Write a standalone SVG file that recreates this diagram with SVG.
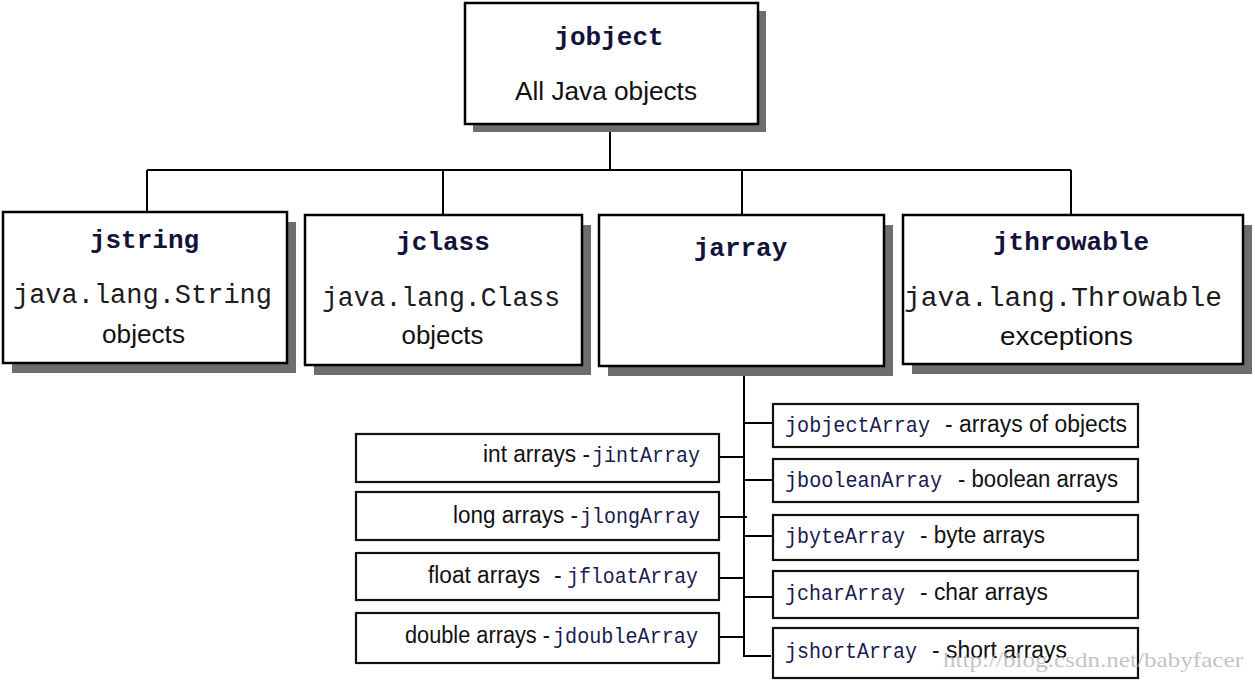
<svg xmlns="http://www.w3.org/2000/svg" width="1255" height="680" viewBox="0 0 1255 680">
<style>
.box{fill:#ffffff;stroke:#000000;stroke-width:2.5}
.shadow{fill:#6e6e6e}
.lbox{fill:#ffffff;stroke:#111111;stroke-width:2.2}
.title{font-family:"Liberation Mono","DejaVu Sans Mono",monospace;font-weight:bold;font-size:26px;fill:#12123a;text-anchor:middle}
.mono{font-family:"Liberation Mono","DejaVu Sans Mono",monospace;font-size:27px;fill:#1c1c1c;text-anchor:middle}
.sans{font-family:"Liberation Sans",Arial,sans-serif;font-size:26px;fill:#111111;text-anchor:middle}
.lsans{font-family:"Liberation Sans",Arial,sans-serif;font-size:23px;fill:#111111}
.lmono{font-family:"Liberation Mono","DejaVu Sans Mono",monospace;font-size:22px;fill:#1a1a50}
.conn{fill:none;stroke:#000000;stroke-width:2}
.wm{font-family:"Liberation Serif","DejaVu Serif",serif;font-size:22px;fill:#b4b4b4;fill-opacity:0.8}
</style>
<rect width="1255" height="680" fill="#ffffff"/>
<g id="connectors">
<path class="conn" d="M610 124V170M147 170H1071M147 170V212M443 170V215M742 170V215M1071 170V215"/>
<path class="conn" d="M744 366V656H771"/>
<path class="conn" d="M719 457H744M719 517H747M719 578H744M719 637H744"/>
<path class="conn" d="M744 423H773M744 480H773M744 536H773M744 597H773"/>
</g>
<g id="jobject">
<rect class="shadow" x="473" y="11" width="293" height="121"/>
<rect class="box" x="465" y="3" width="293" height="121"/>
<text class="title" x="609" y="45">jobject</text>
<text class="sans" x="606" y="100" textLength="182" lengthAdjust="spacingAndGlyphs">All Java objects</text>
</g>
<g id="jstring">
<rect class="shadow" x="12" y="222" width="284" height="151"/>
<rect class="box" x="3" y="212" width="284" height="151"/>
<text class="title" x="144.5" y="248">jstring</text>
<text class="mono" x="142.5" y="303" textLength="259" lengthAdjust="spacingAndGlyphs">java.lang.String</text>
<text class="sans" x="143.5" y="343" textLength="83" lengthAdjust="spacingAndGlyphs">objects</text>
</g>
<g id="jclass">
<rect class="shadow" x="314" y="225" width="277" height="150"/>
<rect class="box" x="305" y="215" width="277" height="150"/>
<text class="title" x="443" y="250">jclass</text>
<text class="mono" x="441" y="306" textLength="238" lengthAdjust="spacingAndGlyphs">java.lang.Class</text>
<text class="sans" x="442.5" y="344" textLength="82" lengthAdjust="spacingAndGlyphs">objects</text>
</g>
<g id="jarray">
<rect class="shadow" x="608" y="225" width="285" height="151"/>
<rect class="box" x="599" y="215" width="285" height="151"/>
<text class="title" x="740.5" y="256">jarray</text>
</g>
<g id="jthrowable">
<rect class="shadow" x="912" y="225" width="340" height="149"/>
<rect class="box" x="903" y="215" width="340" height="149"/>
<text class="title" x="1071" y="250">jthrowable</text>
<text class="mono" x="1063" y="306" textLength="318" lengthAdjust="spacingAndGlyphs">java.lang.Throwable</text>
<text class="sans" x="1066.5" y="345" textLength="133" lengthAdjust="spacingAndGlyphs">exceptions</text>
</g>
<g id="jintArray">
<rect class="lbox" x="356" y="434" width="363" height="48"/>
<text class="lsans" x="483" y="462" textLength="107" lengthAdjust="spacingAndGlyphs">int arrays -</text>
<text class="lmono" x="592" y="462" textLength="108" lengthAdjust="spacingAndGlyphs">jintArray</text>
</g>
<g id="jlongArray">
<rect class="lbox" x="356" y="492" width="363" height="48"/>
<text class="lsans" x="453" y="523" textLength="125" lengthAdjust="spacingAndGlyphs">long arrays -</text>
<text class="lmono" x="580" y="523" textLength="120" lengthAdjust="spacingAndGlyphs">jlongArray</text>
</g>
<g id="jfloatArray">
<rect class="lbox" x="356" y="553" width="363" height="47"/>
<text class="lsans" x="428" y="583" textLength="112" lengthAdjust="spacingAndGlyphs">float arrays</text>
<text class="lsans" x="554" y="583">-</text>
<text class="lmono" x="567" y="583" textLength="131" lengthAdjust="spacingAndGlyphs">jfloatArray</text>
</g>
<g id="jdoubleArray">
<rect class="lbox" x="356" y="613" width="363" height="50"/>
<text class="lsans" x="405" y="643" textLength="145" lengthAdjust="spacingAndGlyphs">double arrays -</text>
<text class="lmono" x="553" y="643" textLength="145" lengthAdjust="spacingAndGlyphs">jdoubleArray</text>
</g>
<g id="jobjectArray">
<rect class="lbox" x="773" y="404" width="365" height="43"/>
<text class="lmono" x="785" y="432" textLength="145" lengthAdjust="spacingAndGlyphs">jobjectArray</text>
<text class="lsans" x="945" y="432" textLength="182" lengthAdjust="spacingAndGlyphs">- arrays of objects</text>
</g>
<g id="jbooleanArray">
<rect class="lbox" x="773" y="459" width="365" height="43"/>
<text class="lmono" x="785" y="487" textLength="157" lengthAdjust="spacingAndGlyphs">jbooleanArray</text>
<text class="lsans" x="958" y="487" textLength="160" lengthAdjust="spacingAndGlyphs">- boolean arrays</text>
</g>
<g id="jbyteArray">
<rect class="lbox" x="773" y="515" width="365" height="45"/>
<text class="lmono" x="785" y="543" textLength="120" lengthAdjust="spacingAndGlyphs">jbyteArray</text>
<text class="lsans" x="920" y="543" textLength="125" lengthAdjust="spacingAndGlyphs">- byte arrays</text>
</g>
<g id="jcharArray">
<rect class="lbox" x="773" y="571" width="365" height="47"/>
<text class="lmono" x="785" y="600" textLength="120" lengthAdjust="spacingAndGlyphs">jcharArray</text>
<text class="lsans" x="920" y="600" textLength="128" lengthAdjust="spacingAndGlyphs">- char arrays</text>
</g>
<g id="jshortArray">
<rect class="lbox" x="773" y="628" width="365" height="50"/>
<text class="lmono" x="785" y="658" textLength="132" lengthAdjust="spacingAndGlyphs">jshortArray</text>
<text class="lsans" x="932" y="658" textLength="135" lengthAdjust="spacingAndGlyphs">- short arrays</text>
</g>
<text class="wm" x="943" y="667" textLength="300" lengthAdjust="spacingAndGlyphs">http://blog.csdn.net/babyfacer</text>
</svg>
